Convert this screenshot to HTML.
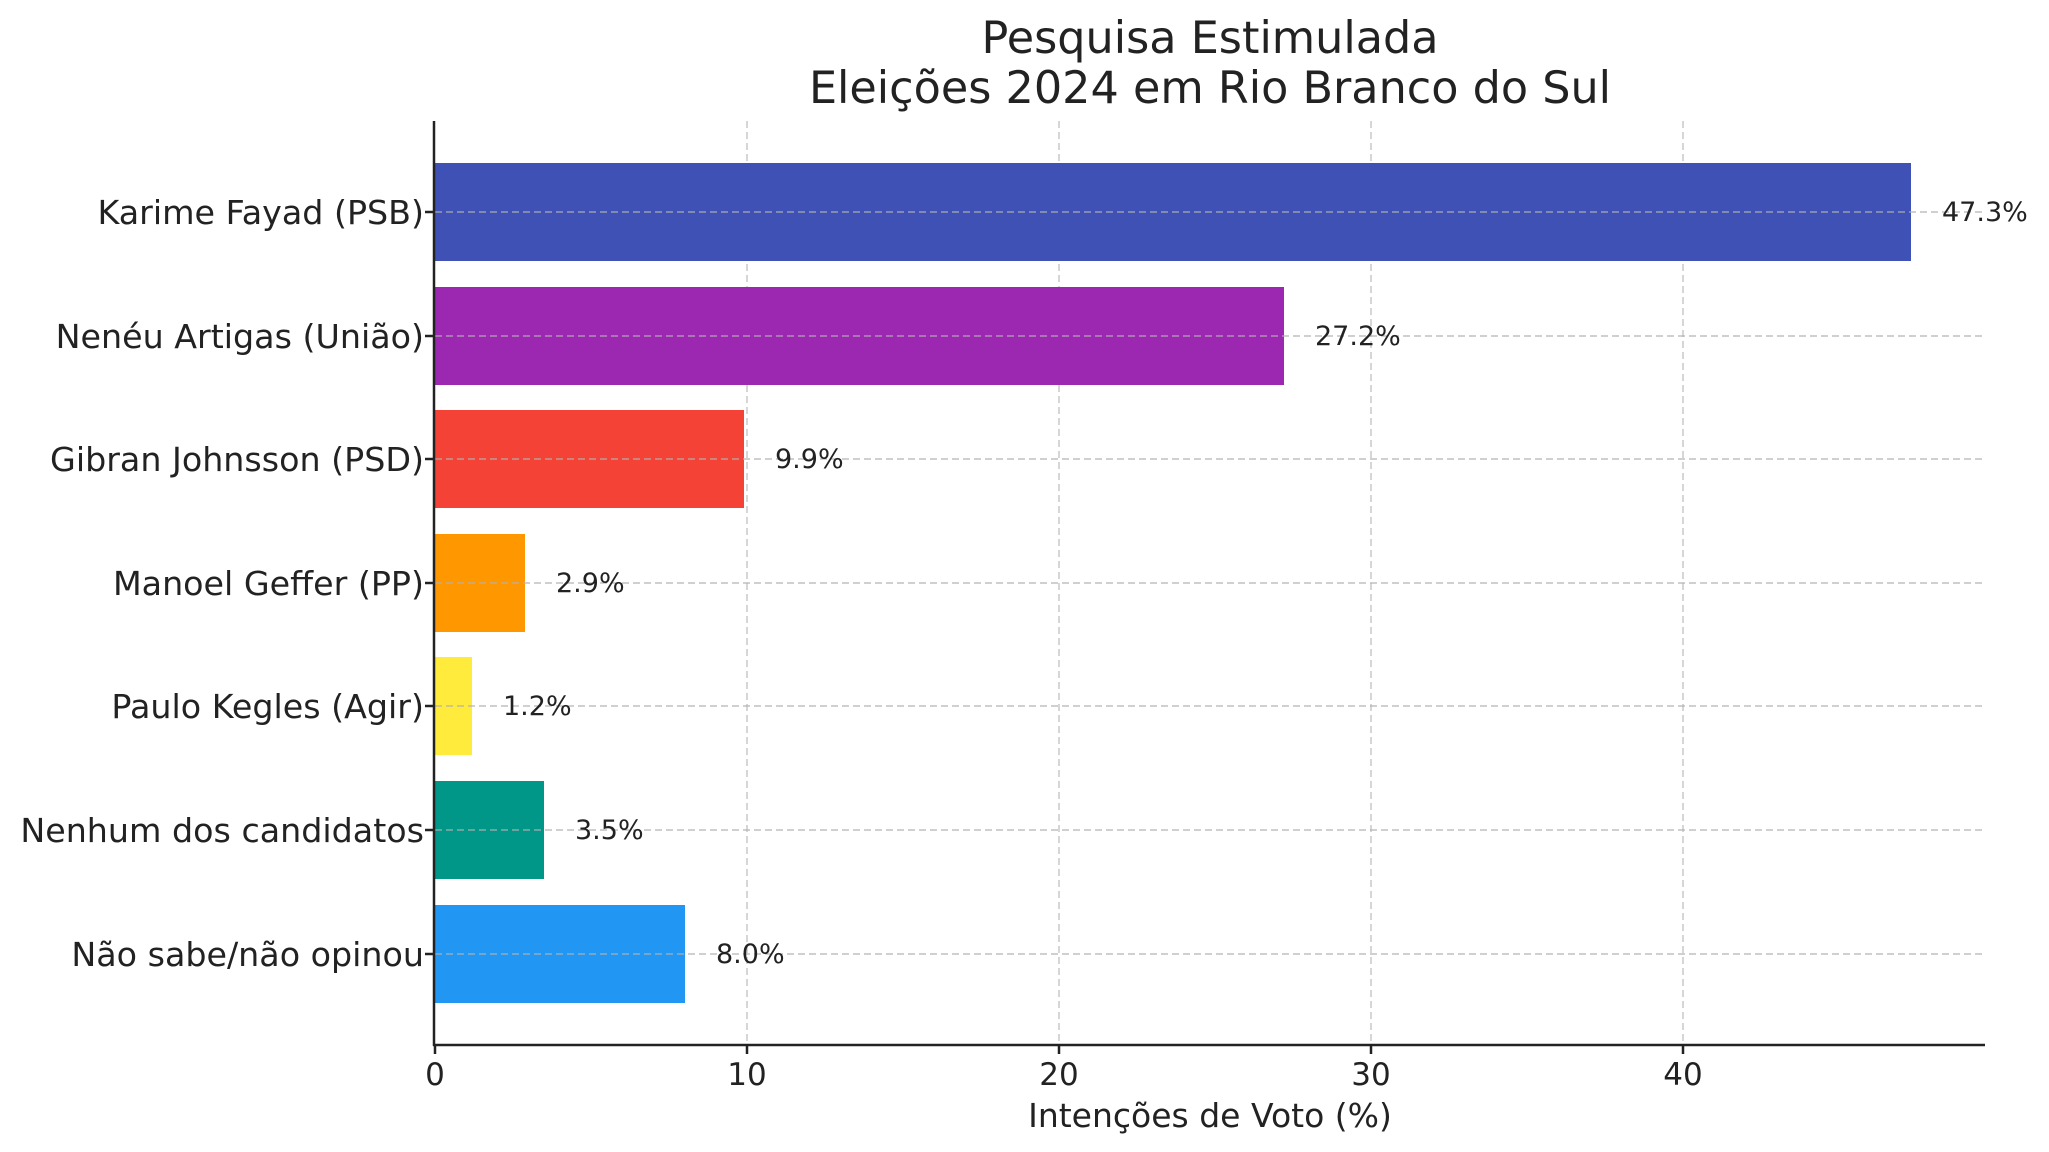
<!DOCTYPE html>
<html><head><meta charset="utf-8"><style>body{margin:0;background:#fff}svg{display:block}text{font-family:"DejaVu Sans","Liberation Sans",sans-serif;fill:#222}</style></head><body>
<svg width="2049" height="1152" viewBox="0 0 2049 1152" xmlns="http://www.w3.org/2000/svg">
<rect width="2049" height="1152" fill="#fff"/>
<g stroke="#c8c8c8" stroke-width="1.5" stroke-dasharray="7,4">
<line x1="747" y1="121" x2="747" y2="1045"/><line x1="1059" y1="121" x2="1059" y2="1045"/><line x1="1371" y1="121" x2="1371" y2="1045"/><line x1="1683" y1="121" x2="1683" y2="1045"/>
</g>
<g>
<rect x="435" y="163" width="1476" height="98" fill="#3F51B5"/>
<rect x="435" y="287" width="849" height="98" fill="#9C27B0"/>
<rect x="435" y="410" width="309" height="98" fill="#F44336"/>
<rect x="435" y="534" width="90" height="98" fill="#FF9800"/>
<rect x="435" y="657" width="37" height="98" fill="#FFEB3B"/>
<rect x="435" y="781" width="109" height="98" fill="#009688"/>
<rect x="435" y="905" width="250" height="98" fill="#2196F3"/>
</g>
<g stroke="#b0b0b0" stroke-opacity="0.8" stroke-width="1.5" stroke-dasharray="7,4">
<line x1="435" y1="212" x2="1985" y2="212"/><line x1="435" y1="336" x2="1985" y2="336"/><line x1="435" y1="459" x2="1985" y2="459"/><line x1="435" y1="583" x2="1985" y2="583"/><line x1="435" y1="706" x2="1985" y2="706"/><line x1="435" y1="830" x2="1985" y2="830"/><line x1="435" y1="954" x2="1985" y2="954"/>
</g>
<g stroke="#222" stroke-width="2.5">
<line x1="434" y1="121" x2="434" y2="1046"/><line x1="433" y1="1045" x2="1985" y2="1045"/>
<line x1="435" y1="1045" x2="435" y2="1054"/><line x1="747" y1="1045" x2="747" y2="1054"/><line x1="1059" y1="1045" x2="1059" y2="1054"/><line x1="1371" y1="1045" x2="1371" y2="1054"/><line x1="1683" y1="1045" x2="1683" y2="1054"/>
<line x1="425" y1="212" x2="434" y2="212"/><line x1="425" y1="336" x2="434" y2="336"/><line x1="425" y1="459" x2="434" y2="459"/><line x1="425" y1="583" x2="434" y2="583"/><line x1="425" y1="706" x2="434" y2="706"/><line x1="425" y1="830" x2="434" y2="830"/><line x1="425" y1="954" x2="434" y2="954"/>
</g>
<g font-size="33.3" text-anchor="end">
<text x="424" y="224">Karime Fayad (PSB)</text>
<text x="424" y="348">Nenéu Artigas (União)</text>
<text x="424" y="471">Gibran Johnsson (PSD)</text>
<text x="424" y="595">Manoel Geffer (PP)</text>
<text x="424" y="718">Paulo Kegles (Agir)</text>
<text x="424" y="842">Nenhum dos candidatos</text>
<text x="424" y="966">Não sabe/não opinou</text>
</g>
<g font-size="27">
<text x="1942" y="221">47.3%</text>
<text x="1315" y="345">27.2%</text>
<text x="775" y="468">9.9%</text>
<text x="556" y="592">2.9%</text>
<text x="503" y="715">1.2%</text>
<text x="575" y="839">3.5%</text>
<text x="716" y="963">8.0%</text>
</g>
<g font-size="31" text-anchor="middle">
<text x="435" y="1085">0</text><text x="747" y="1085">10</text><text x="1059" y="1085">20</text><text x="1371" y="1085">30</text><text x="1683" y="1085">40</text>
</g>
<text x="1210" y="1127" font-size="33" text-anchor="middle">Intenções de Voto (%)</text>
<text x="1210" y="53" font-size="44.5" text-anchor="middle">Pesquisa Estimulada</text>
<text x="1210" y="103" font-size="44.5" text-anchor="middle">Eleições 2024 em Rio Branco do Sul</text>
</svg>
</body></html>
